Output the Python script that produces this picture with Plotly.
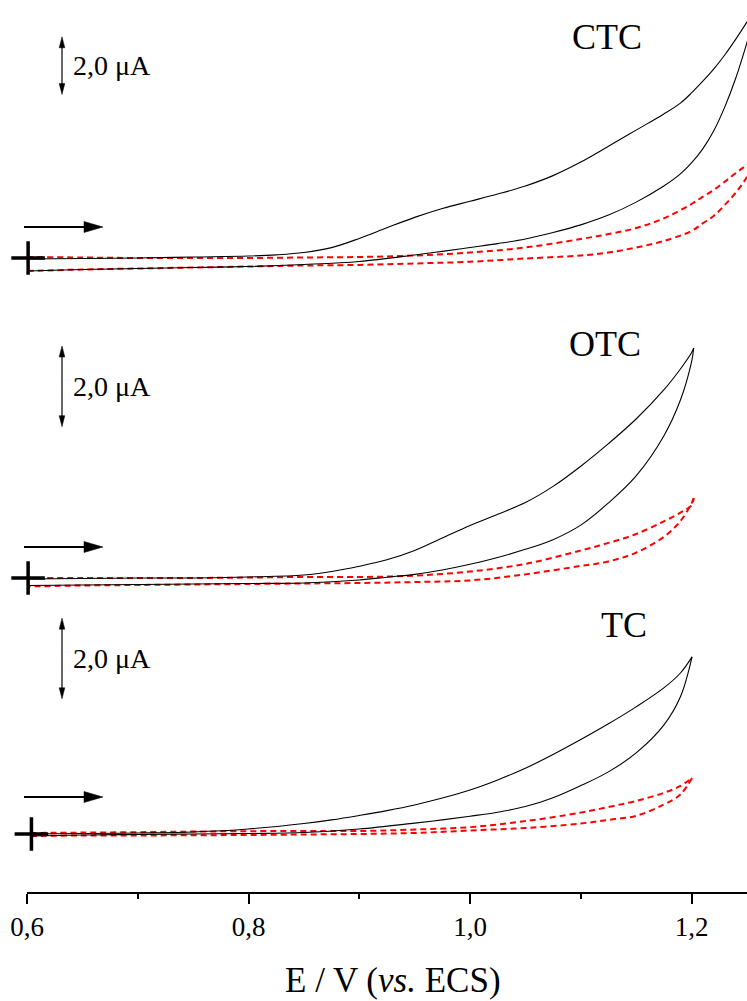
import plotly.graph_objects as go

# ---------------------------------------------------------------------------
# Cyclic voltammograms: potential E (V vs. ECS) and current I (µA)
# black = antibiotic solution, red dashed = blank electrolyte
# ---------------------------------------------------------------------------
panels = ["CTC", "OTC", "TC"]

# CTC
E_ctc_fwd = [0.600, 0.65, 0.70, 0.75, 0.80, 0.825, 0.85, 0.875, 0.90, 0.925, 0.95, 0.975,
             1.00, 1.025, 1.05, 1.075, 1.10, 1.125, 1.15, 1.175, 1.19, 1.20, 1.21, 1.22,
             1.23, 1.24, 1.25, 1.26]
I_ctc_fwd = [-0.035, -0.017, 0.0, 0.035, 0.069, 0.11, 0.19, 0.36, 0.68, 1.05, 1.41, 1.72,
             1.97, 2.22, 2.50, 2.86, 3.33, 3.88, 4.44, 5.00, 5.38, 5.73, 6.13, 6.56,
             7.05, 7.60, 8.19, 8.80]
E_ctc_rev = [1.26, 1.25, 1.24, 1.23, 1.22, 1.21, 1.20, 1.19, 1.175, 1.15, 1.125, 1.10,
             1.075, 1.05, 1.025, 1.00, 0.975, 0.95, 0.90, 0.85, 0.80, 0.75, 0.70, 0.65, 0.60]
I_ctc_rev = [8.80, 7.47, 6.25, 5.24, 4.41, 3.78, 3.30, 2.92, 2.50, 1.94, 1.49, 1.15,
             0.885, 0.66, 0.50, 0.365, 0.23, 0.104, -0.12, -0.226, -0.295, -0.33, -0.365,
             -0.40, -0.45]
E_ctc_blank_fwd = [0.60, 0.65, 0.70, 0.75, 0.80, 0.85, 0.90, 0.95, 1.00, 1.05, 1.10,
                   1.125, 1.15, 1.175, 1.20, 1.21, 1.22, 1.23, 1.24, 1.258]
I_ctc_blank_fwd = [0.035, 0.017, 0.0, 0.0, 0.0, 0.017, 0.035, 0.087, 0.19, 0.365, 0.66,
                   0.83, 1.04, 1.375, 1.875, 2.125, 2.36, 2.65, 2.95, 3.45]
E_ctc_blank_rev = [1.258, 1.25, 1.24, 1.23, 1.22, 1.21, 1.20, 1.175, 1.15, 1.125, 1.10,
                   1.05, 1.00, 0.95, 0.90, 0.85, 0.80, 0.75, 0.70, 0.65, 0.60]
I_ctc_blank_rev = [3.45, 2.81, 2.27, 1.84, 1.46, 1.20, 0.94, 0.59, 0.365, 0.19, 0.087,
                   -0.017, -0.13, -0.19, -0.24, -0.26, -0.295, -0.33, -0.365, -0.40, -0.45]

# OTC
E_otc_fwd = [0.60, 0.65, 0.70, 0.75, 0.80, 0.85, 0.875, 0.90, 0.925, 0.95, 0.975, 1.00,
             1.025, 1.05, 1.075, 1.10, 1.125, 1.15, 1.175, 1.19, 1.20, 1.202]
I_otc_fwd = [-0.025, -0.012, 0.0, 0.0, 0.025, 0.074, 0.16, 0.29, 0.45, 0.68, 0.99, 1.30,
             1.58, 1.87, 2.27, 2.77, 3.33, 3.94, 4.66, 5.18, 5.58, 5.70]
E_otc_rev = [1.202, 1.20, 1.19, 1.175, 1.15, 1.125, 1.10, 1.075, 1.05, 1.025, 1.00,
             0.975, 0.95, 0.925, 0.90, 0.85, 0.80, 0.75, 0.70, 0.65, 0.60]
I_otc_rev = [5.70, 5.35, 4.41, 3.52, 2.53, 1.86, 1.31, 0.95, 0.71, 0.51, 0.34,
             0.20, 0.09, 0.02, -0.05, -0.124, -0.136, -0.149, -0.161, -0.173, -0.186]
E_otc_blank_fwd = [0.60, 0.65, 0.70, 0.75, 0.80, 0.85, 0.90, 0.95, 1.00, 1.05, 1.10,
                   1.125, 1.15, 1.175, 1.19, 1.20, 1.202]
I_otc_blank_fwd = [0.0, 0.0, 0.0, 0.0, 0.012, 0.025, 0.025, 0.06, 0.16, 0.35, 0.68,
                   0.87, 1.09, 1.405, 1.62, 1.80, 1.98]
E_otc_blank_rev = [1.202, 1.20, 1.19, 1.175, 1.15, 1.125, 1.10, 1.05, 1.00, 0.95, 0.90,
                   0.85, 0.80, 0.75, 0.70, 0.65, 0.60]
I_otc_blank_rev = [1.98, 1.85, 1.41, 1.02, 0.63, 0.41, 0.30, 0.09, -0.06, -0.10, -0.124,
                   -0.136, -0.149, -0.161, -0.173, -0.186, -0.21]

# TC
E_tc_fwd = [0.603, 0.65, 0.70, 0.75, 0.80, 0.85, 0.875, 0.90, 0.925, 0.95, 0.975, 1.00,
            1.025, 1.05, 1.075, 1.10, 1.125, 1.15, 1.175, 1.19, 1.2005]
I_tc_fwd = [0.0, 0.012, 0.025, 0.05, 0.124, 0.26, 0.35, 0.46, 0.58, 0.72, 0.89, 1.09,
            1.34, 1.63, 1.97, 2.34, 2.73, 3.15, 3.62, 3.99, 4.39]
E_tc_rev = [1.2005, 1.19, 1.175, 1.15, 1.125, 1.10, 1.075, 1.05, 1.025, 1.00, 0.975,
            0.95, 0.90, 0.85, 0.80, 0.75, 0.70, 0.65, 0.603]
I_tc_rev = [4.39, 3.40, 2.70, 2.01, 1.54, 1.20, 0.90, 0.68, 0.54, 0.44, 0.35,
            0.27, 0.124, 0.037, 0.012, 0.0, -0.012, -0.025, -0.05]
E_tc_blank_fwd = [0.603, 0.65, 0.70, 0.75, 0.80, 0.85, 0.90, 0.95, 1.00, 1.05, 1.10,
                  1.125, 1.15, 1.175, 1.19, 1.2005]
I_tc_blank_fwd = [0.025, 0.035, 0.045, 0.06, 0.07, 0.074, 0.074, 0.11, 0.17, 0.32, 0.53,
                  0.67, 0.82, 1.02, 1.19, 1.39]
E_tc_blank_rev = [1.2005, 1.19, 1.175, 1.15, 1.125, 1.10, 1.05, 1.00, 0.95, 0.90, 0.85,
                  0.80, 0.75, 0.70, 0.65, 0.603]
I_tc_blank_rev = [1.39, 0.98, 0.73, 0.45, 0.35, 0.26, 0.15, 0.087, 0.025, 0.0, -0.012,
                  -0.025, -0.03, -0.037, -0.037, -0.05]

# starting potential of each scan (marked with a cross)
start_E = [0.601, 0.601, 0.604]
start_I = [0.0, 0.0, 0.0]

# current scale bars
scale_ua = 2.0
scale_label = "2,0 μA"
scale_bottom = [5.68, 3.75, 3.35]

x_tickvals = [0.6, 0.8, 1.0, 1.2]
x_ticktext = ["0,6", "0,8", "1,0", "1,2"]
x_minor = [0.7, 0.9, 1.1]
x_title = "E / V (<i>vs.</i> ECS)"

curves = [
    (E_ctc_fwd, I_ctc_fwd, E_ctc_rev, I_ctc_rev,
     E_ctc_blank_fwd, I_ctc_blank_fwd, E_ctc_blank_rev, I_ctc_blank_rev),
    (E_otc_fwd, I_otc_fwd, E_otc_rev, I_otc_rev,
     E_otc_blank_fwd, I_otc_blank_fwd, E_otc_blank_rev, I_otc_blank_rev),
    (E_tc_fwd, I_tc_fwd, E_tc_rev, I_tc_rev,
     E_tc_blank_fwd, I_tc_blank_fwd, E_tc_blank_rev, I_tc_blank_rev),
]

# ---------------------------------------------------------------------------
# Layout geometry (pixels)
# ---------------------------------------------------------------------------
W, H = 747, 1001
ML, MR, MT, MB = 27, 0, 0, 109
PW, PH = W - ML - MR, H - MT - MB
PX_PER_V = 1107.5
X_RANGE = [0.6, 0.6 + PW / PX_PER_V]

zero_px = [258, 578, 834]          # vertical position of I = 0 for each panel
px_per_ua = [28.8, 40.35, 40.35]   # vertical current scale of each panel
yaxes = ["y", "y2", "y3"]

FONT = "Liberation Serif, Times New Roman, serif"


def paper(px, py):
    return (px - ML) / PW, (MT + PH - py) / PH


fig = go.Figure()

for k, name in enumerate(panels):
    ya = yaxes[k]
    Ef, If, Er, Ir, Bf, Bif, Br, Bir = curves[k]
    for ex, iy in ((Bf, Bif), (Br, Bir)):
        fig.add_trace(go.Scatter(
            x=ex, y=iy, yaxis=ya, mode="lines", showlegend=False,
            line=dict(color="#ff0000", width=2, dash="6px,4px",
                      shape="spline", smoothing=1.0),
            hoverinfo="skip"))
    for ex, iy in ((Ef, If), (Er, Ir)):
        fig.add_trace(go.Scatter(
            x=ex, y=iy, yaxis=ya, mode="lines", showlegend=False,
            line=dict(color="#000000", width=1.1, shape="spline", smoothing=1.0),
            hoverinfo="skip"))
    fig.add_trace(go.Scatter(
        x=[start_E[k]], y=[start_I[k]], yaxis=ya, mode="markers",
        showlegend=False, cliponaxis=False, hoverinfo="skip",
        marker=dict(symbol="cross-thin", size=24,
                    line=dict(color="#000000", width=3.5))))

shapes = []
annotations = []

# scan-direction arrows
for py in (227, 547, 797):
    x0, y0 = paper(24, py)
    x1, _ = paper(88, py)
    shapes.append(dict(type="line", xref="paper", yref="paper",
                       x0=x0, y0=y0, x1=x1, y1=y0,
                       line=dict(color="#000000", width=2.2)))
    hx0, hy0 = paper(84, py - 5.5)
    hx1, hy1 = paper(103, py)
    _, hy2 = paper(84, py + 5.5)
    shapes.append(dict(type="path", xref="paper", yref="paper",
                       path=f"M{hx0},{hy0} L{hx1},{hy1} L{hx0},{hy2} Z",
                       fillcolor="#000000", line=dict(color="#000000", width=0.5)))

# current scale bars and panel names
bar_E = 0.6 + 35 / PX_PER_V
dE = 2.8 / PX_PER_V
label_pos = [(607, 37), (605, 344), (624, 625)]
for k, name in enumerate(panels):
    ya = yaxes[k]
    lo = scale_bottom[k]
    hi = lo + scale_ua
    head = 11 / px_per_ua[k]
    shapes.append(dict(type="line", xref="x", yref=ya,
                       x0=bar_E, x1=bar_E, y0=lo + head * 0.8, y1=hi - head * 0.8,
                       line=dict(color="#000000", width=1.2)))
    shapes.append(dict(type="path", xref="x", yref=ya,
                       path=f"M{bar_E - dE},{hi - head} L{bar_E},{hi} L{bar_E + dE},{hi - head} Z",
                       fillcolor="#000000", line=dict(color="#000000", width=0.5)))
    shapes.append(dict(type="path", xref="x", yref=ya,
                       path=f"M{bar_E - dE},{lo + head} L{bar_E},{lo} L{bar_E + dE},{lo + head} Z",
                       fillcolor="#000000", line=dict(color="#000000", width=0.5)))
    annotations.append(dict(x=0.6 + 44 / PX_PER_V, y=(lo + hi) / 2, xref="x", yref=ya,
                            text=scale_label, showarrow=False,
                            xanchor="left", yanchor="middle",
                            font=dict(family=FONT, size=28, color="#000000")))
    lx, ly = paper(*label_pos[k])
    annotations.append(dict(x=lx, y=ly, xref="paper", yref="paper", text=name,
                            showarrow=False, xanchor="center", yanchor="middle",
                            font=dict(family=FONT, size=36, color="#000000")))

tx, ty = paper(393, 980)
annotations.append(dict(x=tx, y=ty, xref="paper", yref="paper", text=x_title,
                        showarrow=False, xanchor="center", yanchor="middle",
                        font=dict(family=FONT, size=35, color="#000000")))

layout_y = {}
for k, ya in enumerate(yaxes):
    key = "yaxis" if ya == "y" else "yaxis" + ya[1:]
    b, s = zero_px[k], px_per_ua[k]
    cfg = dict(visible=False, range=[-(PH - b) / s, b / s], domain=[0, 1],
               fixedrange=True, showgrid=False, zeroline=False)
    if ya != "y":
        cfg["overlaying"] = "y"
    layout_y[key] = cfg

fig.update_layout(
    width=W, height=H,
    margin=dict(l=ML, r=MR, t=MT, b=MB, pad=0),
    paper_bgcolor="#ffffff", plot_bgcolor="#ffffff",
    showlegend=False,
    xaxis=dict(range=X_RANGE, showgrid=False, zeroline=False,
               showline=True, linecolor="#000000", linewidth=1.6,
               ticks="outside", ticklen=10, tickwidth=1.6, tickcolor="#000000",
               tickvals=x_tickvals, ticktext=x_ticktext,
               tickfont=dict(family=FONT, size=27, color="#000000"),
               minor=dict(tickvals=x_minor, ticks="outside", ticklen=5,
                          tickwidth=1.6, tickcolor="#000000"),
               fixedrange=True),
    shapes=shapes,
    annotations=annotations,
    **layout_y,
)

fig.write_html("out.html")
